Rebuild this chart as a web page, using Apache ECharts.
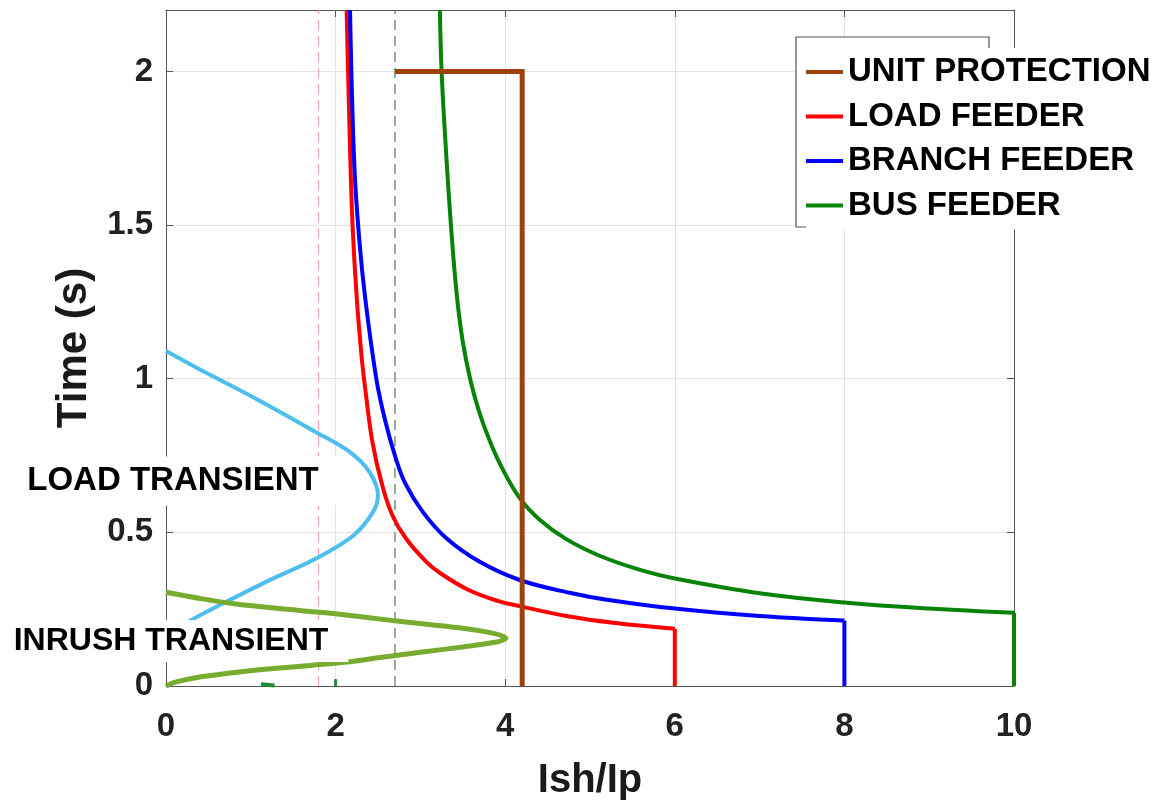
<!DOCTYPE html>
<html>
<head>
<meta charset="utf-8">
<script src="https://cdn.jsdelivr.net/npm/echarts@6/dist/echarts.min.js"></script>
<style>
html,body{margin:0;padding:0;background:#fff;}
#chart{width:1155px;height:806px;}
</style>
</head>
<body>
<div id="chart"></div>
<script>
// ---- data ----
const xTicks = [0, 2, 4, 6, 8, 10];
const yTicks = [0, 0.5, 1, 1.5, 2];

const unitProtX = [2.7, 4.2, 4.2];
const unitProtT = [2.0, 2.0, 0];

const loadFeederX = [2.13, 2.17, 2.2, 2.25, 2.31, 2.355, 2.435, 2.55, 2.67, 2.83, 3.07, 3.23, 3.55, 3.9, 4.17, 4.72, 5.3, 6.0];
const loadFeederT = [2.2, 1.75, 1.5, 1.26, 1.063, 0.955, 0.793, 0.653, 0.555, 0.48, 0.404, 0.368, 0.315, 0.278, 0.26, 0.228, 0.205, 0.186];
const loadFeederTripX = [6.0, 6.0];
const loadFeederTripT = [0.186, 0];

const branchFeederX = [2.17, 2.22, 2.28, 2.35, 2.48, 2.58, 2.70, 2.82, 3.03, 3.31, 3.70, 4.17, 4.80, 5.2, 6.0, 7.0, 8.0];
const branchFeederT = [2.2, 1.7, 1.45, 1.26, 1.0, 0.869, 0.75, 0.66, 0.566, 0.48, 0.404, 0.345, 0.301, 0.281, 0.252, 0.228, 0.213];
const branchFeederTripX = [8.0, 8.0];
const branchFeederTripT = [0.213, 0];

const busFeederX = [3.23, 3.25, 3.30, 3.36, 3.43, 3.50, 3.59, 3.69, 3.80, 3.94, 4.17, 4.41, 4.72, 5.12, 5.59, 6.0, 7.0, 8.0, 9.0, 10.0];
const busFeederT = [2.2, 2.0, 1.75, 1.5, 1.27, 1.12, 0.995, 0.895, 0.81, 0.722, 0.612, 0.54, 0.478, 0.423, 0.378, 0.350, 0.302, 0.272, 0.252, 0.238];
const busFeederTripX = [10.0, 10.0];
const busFeederTripT = [0.238, 0];

const loadTransX = [0, 0.4, 1.0, 1.77, 2.17, 2.40, 2.50, 2.44, 2.21, 1.77, 1.18, 0.71, 0.3, 0.15];
const loadTransT = [1.09, 1.03, 0.944, 0.826, 0.761, 0.696, 0.62, 0.566, 0.49, 0.415, 0.339, 0.274, 0.215, 0.19];

const inrushX = [0, 0.4, 0.8, 1.6, 2.0, 2.7, 3.5, 3.85, 4.01, 3.9, 3.5, 3.0, 2.5, 2.2, 1.7, 1.2, 0.78, 0.35, 0.1, 0];
const inrushT = [0.305, 0.285, 0.268, 0.245, 0.235, 0.212, 0.188, 0.172, 0.156, 0.143, 0.127, 0.11, 0.092, 0.08, 0.067, 0.055, 0.043, 0.027, 0.012, 0];

// tiny dark-green fragments visible on the x axis
const fragAX = [1.12, 1.28];
const fragAT = [0.006, 0.002];
const fragBX = [2.0, 2.0];
const fragBT = [0, 0.022];

const pickupX = [1.8, 2.7];      // dashed vertical reference lines
const pickupSpan = [0, 2.2];

const seriesNames = ['UNIT PROTECTION', 'LOAD FEEDER', 'BRANCH FEEDER', 'BUS FEEDER'];

// ---- helpers ----
const zip = (xs, ys) => xs.map((x, i) => [x, ys[i]]);
const FONT = '"Liberation Sans", Arial, Helvetica, sans-serif';
const AX = '#555';

const chart = echarts.init(document.getElementById('chart'), null, {renderer: 'canvas'});

const axisCommonX = {
  type: 'value', min: xTicks[0], max: xTicks[xTicks.length - 1], interval: 2,
  axisLine: {show: true, onZero: false, lineStyle: {color: AX, width: 1}},
  axisTick: {show: true, inside: true, length: 7, lineStyle: {color: AX}},
};
const axisCommonY = {
  type: 'value', min: 0, max: 2.2, interval: 0.5,
  axisLine: {show: true, onZero: false, lineStyle: {color: AX, width: 1}},
  axisTick: {show: true, inside: true, length: 7, lineStyle: {color: AX}},
};

function curve(name, xs, ts, color, width) {
  return {type: 'line', name: name, data: zip(xs, ts), symbol: 'none', smooth: 0.4,
          color: color, lineStyle: {width: width, color: color}};
}
function straight(name, xs, ts, color, width) {
  return {type: 'line', name: name, data: zip(xs, ts), symbol: 'none',
          color: color, lineStyle: {width: width, color: color, join: 'miter'}};
}

const option = {
  backgroundColor: '#fff',
  animation: false,
  grid: {left: 166, right: 141, top: 10, bottom: 118, containLabel: false},
  xAxis: [
    Object.assign({}, axisCommonX, {
      position: 'bottom',
      name: 'Ish/Ip', nameLocation: 'middle', nameGap: 75,
      nameTextStyle: {fontSize: 40, fontWeight: 'bold', color: '#1a1a1a', fontFamily: FONT},
      axisLabel: {fontSize: 33, fontWeight: 'bold', color: '#222', margin: 24, fontFamily: FONT},
      splitLine: {show: true, lineStyle: {color: '#e4e4e4', width: 1}}
    }),
    Object.assign({}, axisCommonX, {
      position: 'top', axisLabel: {show: false}, splitLine: {show: false}
    })
  ],
  yAxis: [
    Object.assign({}, axisCommonY, {
      position: 'left',
      name: 'Time (s)', nameLocation: 'middle', nameGap: 71,
      nameTextStyle: {fontSize: 42, fontWeight: 'bold', color: '#1a1a1a', fontFamily: FONT},
      axisLabel: {
        fontSize: 33, fontWeight: 'bold', color: '#222', margin: 13, fontFamily: FONT,
        showMaxLabel: false,
        formatter: v => (yTicks.some(t => Math.abs(t - v) < 1e-9) ? String(v) : '')
      },
      splitLine: {show: true, lineStyle: {color: '#e4e4e4', width: 1}}
    }),
    Object.assign({}, axisCommonY, {
      position: 'right', axisLabel: {show: false}, splitLine: {show: false}
    })
  ],
  legend: {
    data: seriesNames,
    orient: 'vertical',
    left: 806, top: 48,
    padding: [6, 2, 6, 0],
    itemGap: 8.5,
    itemWidth: 37, itemHeight: 4,
    icon: 'rect',
    backgroundColor: '#fff',
    z: 4,
    textStyle: {fontSize: 33, fontWeight: 'bold', color: '#000', fontFamily: FONT, lineHeight: 36}
  },
  graphic: [
    {type: 'rect', z: 3, shape: {x: 796, y: 37, width: 193, height: 190},
     style: {fill: '#fff', stroke: '#555', lineWidth: 1.2}},
    {type: 'text', z: 5, x: 173, y: 481,
     style: {text: 'LOAD TRANSIENT', fontSize: 33, fontWeight: 'bold', fontFamily: FONT, fill: '#000',
             align: 'center', verticalAlign: 'middle', backgroundColor: '#fff', padding: [8, 20]}},
    {type: 'text', z: 5, x: 171, y: 641,
     style: {text: 'INRUSH TRANSIENT', fontSize: 32, fontWeight: 'bold', fontFamily: FONT, fill: '#000',
             align: 'center', verticalAlign: 'middle', backgroundColor: '#fff', padding: [5, 20]}}
  ],
  series: [
    {type: 'line', name: 'pickup1', data: zip([pickupX[0], pickupX[0]], pickupSpan), symbol: 'none',
     color: '#e39a9a', lineStyle: {width: 1, type: [10, 6], color: '#e39a9a'}, silent: true},
    {type: 'line', name: 'pickup2', data: zip([pickupX[1], pickupX[1]], pickupSpan), symbol: 'none',
     color: '#4a7f4a', lineStyle: {width: 1.2, type: [10, 6], color: '#4a7f4a'}, silent: true},
    {type: 'line', name: 'LOAD TRANSIENT', data: zip(loadTransX, loadTransT), symbol: 'none',
     smooth: 0.3, color: '#4dbeee', lineStyle: {width: 4, color: '#4dbeee'}},
    {type: 'line', name: 'INRUSH TRANSIENT', data: zip(inrushX, inrushT), symbol: 'none',
     smooth: 0.3, color: '#77ac30', lineStyle: {width: 5, color: '#77ac30'}},
    straight('fragA', fragAX, fragAT, '#1f8a3a', 4),
    straight('fragB', fragBX, fragBT, '#1f8a3a', 3),
    curve('LOAD FEEDER', loadFeederX, loadFeederT, '#ff0000', 4),
    straight('LOAD FEEDER', loadFeederTripX, loadFeederTripT, '#ff0000', 4),
    curve('BRANCH FEEDER', branchFeederX, branchFeederT, '#0000ff', 4),
    straight('BRANCH FEEDER', branchFeederTripX, branchFeederTripT, '#0000ff', 4),
    curve('BUS FEEDER', busFeederX, busFeederT, '#078407', 4),
    straight('BUS FEEDER', busFeederTripX, busFeederTripT, '#078407', 4),
    straight('UNIT PROTECTION', unitProtX, unitProtT, '#a0400c', 5)
  ]
};

chart.setOption(option);
</script>
</body>
</html>
